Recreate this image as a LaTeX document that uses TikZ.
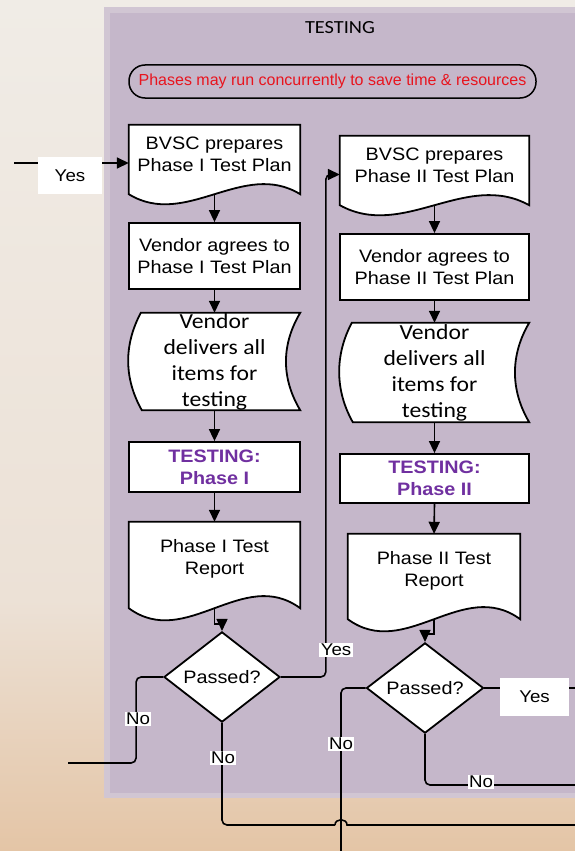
\documentclass[tikz,border=0pt]{standalone}
\usepackage{fontspec}
\setmainfont{Liberation Sans}[FakeStretch=1.1]
\newfontfamily\calibrifont{Carlito}[FakeStretch=1.1]
\newfontfamily\notefont{Liberation Sans}
\usetikzlibrary{shapes.geometric,arrows.meta,backgrounds,calc}

\definecolor{panelpurple}{HTML}{C5B7CA}
\definecolor{paneledge}{HTML}{D1C6D3}
\definecolor{phasepurple}{HTML}{7030A0}
\definecolor{notered}{HTML}{E8141E}
\definecolor{bgtop}{HTML}{F0ECE6}
\definecolor{bgmid}{HTML}{ECE1D6}
\definecolor{bgbottom}{HTML}{E4C5A6}

\tikzset{
  boxtext/.style={align=center, inner sep=0pt, font=\fontsize{18}{22}\selectfont},
  flowbox/.style={boxtext, draw, line width=1.8pt, fill=white},
  phasebox/.style={flowbox, text=phasepurple, font=\bfseries\fontsize{18}{22}\selectfont},
  tapebox/.style={align=center, inner sep=0pt, font=\calibrifont\fontsize{21.5}{26}\selectfont},
  decision/.style={diamond, draw, line width=1.8pt, fill=white, inner sep=0pt, font=\fontsize{18}{22}\selectfont},
  shapeline/.style={draw, line width=1.8pt, fill=white},
  flow/.style={line width=1.6pt, rounded corners=5pt},
  arrowflow/.style={flow, -{Triangle[length=12pt,width=11pt]}},
  lbl/.style={fill=white, inner sep=1.5pt, font=\fontsize{17}{20}\selectfont},
}

\begin{document}
\begin{tikzpicture}[x=1pt, y=-1pt]
\useasboundingbox (0,0) rectangle (575,851);

% Backdrop and testing panel
\begin{scope}[on background layer]
  \shade[top color=bgtop, bottom color=bgmid] (0,0) rectangle (575,600);
  \shade[top color=bgmid, bottom color=bgbottom] (0,600) rectangle (575,851);
  \fill[paneledge] (104,7) rectangle (575,798);
  \fill[panelpurple] (110,13) rectangle (575,793);
\end{scope}

% Title and note
\node[font=\calibrifont\fontsize{18.5}{22}\selectfont] (title) at (340,28) {TESTING};
\node[draw, line width=1.5pt, rounded corners=16pt, minimum width=407pt, minimum height=33pt,
      text=notered, font=\notefont\fontsize{16}{19}\selectfont] (note) at (332.5,81.5)
      {Phases may run concurrently to save time \& resources};

% Phase I column
\node[boxtext, minimum width=171pt, minimum height=59pt] (b1) at (214.5,154.5) {BVSC prepares\\Phase I Test Plan};
\node[flowbox, minimum width=171pt, minimum height=66pt] (b2) at (214.5,256) {Vendor agrees to\\Phase I Test Plan};
\node[tapebox, minimum width=171pt, minimum height=97pt] (b3) at (214.5,361.5) {Vendor\\delivers all\\items for\\testing};
\node[phasebox, minimum width=171pt, minimum height=50pt] (b4) at (214.5,467) {TESTING:\\Phase I};
\node[boxtext, minimum width=171pt, minimum height=74pt] (b5) at (214.5,559) {Phase I Test\\Report};
\node[decision, minimum width=116pt, minimum height=80pt] (d1) at (222,677) {Passed?};

% Phase II column
\node[boxtext, minimum width=189pt, minimum height=59pt] (b6) at (434.5,165.5) {BVSC prepares\\Phase II Test Plan};
\node[flowbox, minimum width=189pt, minimum height=66pt] (b7) at (434.5,267) {Vendor agrees to\\Phase II Test Plan};
\node[tapebox, minimum width=189pt, minimum height=99pt] (b8) at (434.5,372.5) {Vendor\\delivers all\\items for\\testing};
\node[phasebox, minimum width=189pt, minimum height=49pt] (b9) at (434.5,478.5) {TESTING:\\Phase II};
\node[boxtext, minimum width=172pt, minimum height=73pt] (b10) at (434,570.5) {Phase II Test\\Report};
\node[decision, minimum width=117pt, minimum height=78pt] (d2) at (425,688) {Passed?};

% Document and stored-data outlines
\begin{scope}[on background layer]
  \foreach \n/\a/\up/\dn in {b1/10/-25/45, b6/10/-25/45, b5/12/-30/54, b10/12/-30/54} {
    \draw[shapeline] (\n.north west) -- (\n.north east) -- ($(\n.south east)+(0,\a)$)
      .. controls ($(\n.south east)!0.333!(\n.south west)+(0,\up)$)
      and ($(\n.south west)!0.333!(\n.south east)+(0,\dn)$) .. ($(\n.south west)+(0,\a)$) -- cycle;
  }
  \foreach \n in {b3,b8} {
    \draw[shapeline] ($(\n.north west)+(12,0)$) -- (\n.north east)
      .. controls ($(\n.north east)+(-19,32)$) and ($(\n.south east)+(-19,-32)$) .. (\n.south east)
      -- ($(\n.south west)+(13,0)$)
      .. controls ($(\n.south west)+(-5,-32)$) and ($(\n.north west)+(-5,32)$) .. ($(\n.north west)+(12,0)$) -- cycle;
  }
\end{scope}

% Flow arrows, Phase I
\draw[arrowflow] ($(b1.south)+(0,10)$) -- (b2.north);
\draw[arrowflow] (b2.south) -- (b3.north);
\draw[arrowflow] (b3.south) -- (b4.north);
\draw[arrowflow] (b4.south) -- (b5.north);
\draw[arrowflow, sharp corners] ($(b5.south)+(0,12)$) -- ++(0,16) -| (d1.north);

% Flow arrows, Phase II
\draw[arrowflow] ($(b6.south)+(0,10)$) -- (b7.north);
\draw[arrowflow] (b7.south) -- (b8.north);
\draw[arrowflow] (b8.south) -- (b9.north);
\draw[arrowflow] (b9.south) -- (b10.north);
\draw[arrowflow, sharp corners] ($(b10.south)+(0,12)$) -- ++(0,15) -| (d2.north);

% Incoming Yes
\coordinate (inL) at (14,163);
\node[lbl, minimum width=64pt, minimum height=37pt] (yes0) at (70,175.5) {Yes};
\draw[flow] (inL) -- (inL -| yes0.west);
\draw[arrowflow] (yes0.east |- inL) -- (b1.west |- inL);

% Phase I decision
\draw[arrowflow] (d1.east) -| ($(b6.west)+(-14,9)$) -- ($(b6.west)+(0,9)$);
\coordinate (outL) at (68,763);
\draw[flow] (d1.west) -- ++(-27,0) |- (outL);
\coordinate (hop) at (341,825);
\coordinate (outB) at (575,825);
\draw[flow] (d1.south) |- ($(hop)+(-6,0)$);
\draw[line width=1.6pt] ($(hop)+(-6,0)$) .. controls +(0,-7) and +(0,-7) .. ($(hop)+(6,0)$) -- (outB);

% Phase II decision
\node[lbl, minimum width=69pt, minimum height=38pt] (yes2) at (534.5,697) {Yes};
\coordinate (outR) at (575,688);
\draw[flow] (d2.east) -- (d2.east -| yes2.west);
\draw[flow] (yes2.east |- d2.east) -- (outR);
\coordinate (outR2) at (575,785);
\draw[flow] (d2.south) |- (outR2);
\coordinate (outD) at (341,851);
\draw[flow] (d2.west) -| (outD);

% Branch labels
\node[lbl] (yes1) at (336,650) {Yes};
\node[lbl] (no1) at (138,719) {No};
\node[lbl] (no2) at (223,758) {No};
\node[lbl] (no3) at (341,744) {No};
\node[lbl] (no4) at (481,782) {No};

\end{tikzpicture}
\end{document}
